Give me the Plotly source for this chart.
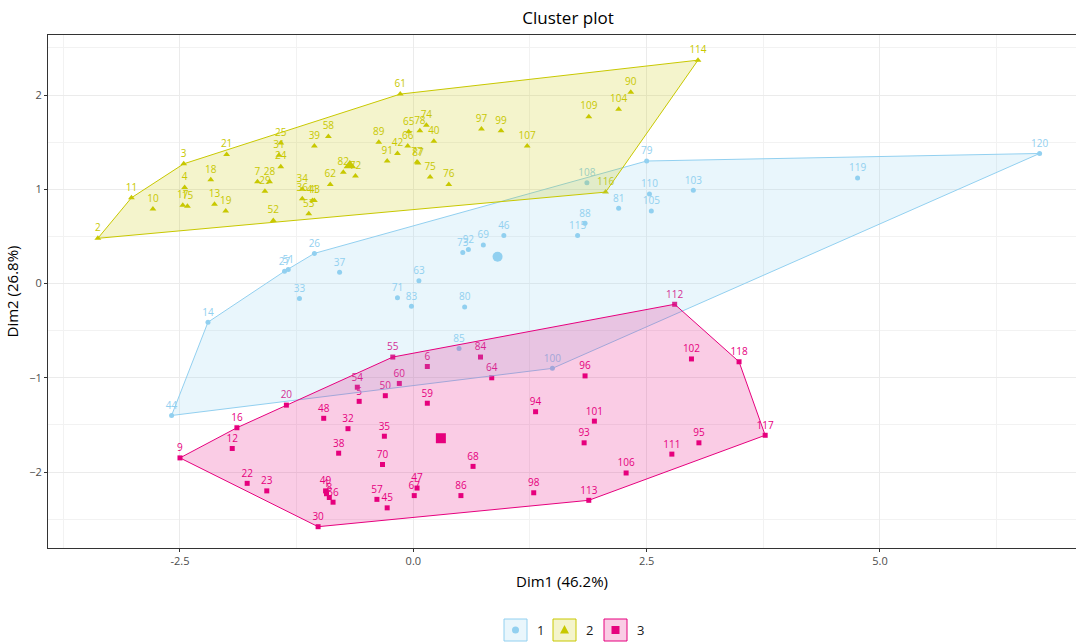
import plotly.graph_objects as go

# ---- cluster 1 -------------------------------------------------------
c1_ids = [120, 79, 119, 108, 110, 103, 81, 105, 88, 115, 46, 73, 92, 69,
          63, 71, 83, 80, 85, 100, 26, 27, 51, 37, 33, 14, 44]
c1_x = [6.71, 2.50, 4.76, 1.86, 2.53, 3.00, 2.20, 2.55, 1.84, 1.76, 0.97, 0.53, 0.59, 0.75,
        0.06, -0.17, -0.02, 0.55, 0.49, 1.49, -1.06, -1.38, -1.34, -0.79, -1.22, -2.20, -2.59]
c1_y = [1.38, 1.30, 1.12, 1.07, 0.95, 0.99, 0.80, 0.77, 0.64, 0.51, 0.51, 0.33, 0.36, 0.41,
        0.03, -0.15, -0.24, -0.25, -0.69, -0.90, 0.32, 0.13, 0.15, 0.12, -0.16, -0.41, -1.40]

# ---- cluster 2 -------------------------------------------------------
c2_ids = [2, 11, 3, 21, 10, 4, 17, 15, 18, 13, 19, 7, 28, 29, 52, 25, 31, 24, 34, 36,
          43, 41, 53, 62, 39, 58, 82, 72, 61, 89, 91, 42, 65, 66, 78, 74, 40, 87, 77, 75,
          76, 97, 99, 107, 109, 104, 90, 114, 116]
c2_x = [-3.38, -3.02, -2.46, -2.00, -2.79, -2.45, -2.47, -2.42, -2.17, -2.13, -2.01, -1.67,
        -1.54, -1.59, -1.50, -1.42, -1.44, -1.42, -1.19, -1.19, -1.06, -1.08, -1.12, -0.89,
        -1.06, -0.91, -0.75, -0.62, -0.14, -0.37, -0.28, -0.17, -0.05, -0.06, 0.07, 0.14,
        0.22, 0.05, 0.04, 0.18, 0.38, 0.73, 0.94, 1.22, 1.88, 2.20, 2.33, 3.05, 2.06]
c2_y = [0.48, 0.91, 1.27, 1.37, 0.79, 1.02, 0.83, 0.82, 1.10, 0.84, 0.77, 1.08, 1.08, 0.98,
        0.67, 1.49, 1.36, 1.24, 1.00, 0.90, 0.88, 0.88, 0.74, 1.05, 1.46, 1.56, 1.18, 1.14,
        2.01, 1.50, 1.30, 1.38, 1.61, 1.46, 1.62, 1.68, 1.51, 1.28, 1.29, 1.13, 1.05, 1.64,
        1.62, 1.46, 1.77, 1.85, 2.03, 2.37, 0.97]

# ---- cluster 3 -------------------------------------------------------
c3_ids = [112, 102, 118, 117, 96, 101, 93, 95, 111, 106, 113, 94, 64, 84, 6, 59, 68, 86,
          98, 47, 67, 55, 60, 54, 5, 50, 20, 48, 32, 35, 16, 12, 9, 38, 70, 22, 23, 49,
          1, 56, 8, 57, 45, 30]
c3_x = [2.80, 2.98, 3.49, 3.77, 1.84, 1.94, 1.83, 3.06, 2.77, 2.28, 1.88, 1.31, 0.84, 0.72,
        0.15, 0.15, 0.64, 0.51, 1.29, 0.04, 0.01, -0.22, -0.15, -0.60, -0.58, -0.30, -1.36,
        -0.96, -0.70, -0.31, -1.89, -1.94, -2.50, -0.80, -0.33, -1.78, -1.57, -0.94, -0.93,
        -0.86, -0.90, -0.39, -0.28, -1.02]
c3_y = [-0.22, -0.80, -0.83, -1.61, -0.98, -1.46, -1.69, -1.69, -1.81, -2.01, -2.30, -1.36,
        -1.00, -0.78, -0.88, -1.27, -1.94, -2.25, -2.22, -2.17, -2.25, -0.78, -1.06, -1.10,
        -1.25, -1.19, -1.29, -1.43, -1.54, -1.62, -1.53, -1.75, -1.85, -1.80, -1.92, -2.12,
        -2.20, -2.20, -2.23, -2.32, -2.27, -2.29, -2.38, -2.58]

clusters = [
    ("1", c1_ids, c1_x, c1_y, "#92D0F0", "rgba(146,208,240,0.2)", "circle", 5),
    ("2", c2_ids, c2_x, c2_y, "#C8C800", "rgba(200,200,0,0.2)", "triangle-up", 6),
    ("3", c3_ids, c3_x, c3_y, "#E6007E", "rgba(230,0,126,0.2)", "square", 5),
]

X_TICKS = [-2.5, 0.0, 2.5, 5.0]
X_TICK_TEXT = ["-2.5", "0.0", "2.5", "5.0"]
Y_TICKS = [-2, -1, 0, 1, 2]

W, H = 1076, 642
ML, MR, MT, MB = 48, 0, 35, 94
FONT = "Open Sans"


def convex_hull(xs, ys):
    pts = sorted(set(zip(xs, ys)))

    def cross(o, a, b):
        return (a[0] - o[0]) * (b[1] - o[1]) - (a[1] - o[1]) * (b[0] - o[0])

    lower, upper = [], []
    for p in pts:
        while len(lower) >= 2 and cross(lower[-2], lower[-1], p) <= 0:
            lower.pop()
        lower.append(p)
    for p in reversed(pts):
        while len(upper) >= 2 and cross(upper[-2], upper[-1], p) <= 0:
            upper.pop()
        upper.append(p)
    ring = lower[:-1] + upper[:-1]
    ring.append(ring[0])
    return [p[0] for p in ring], [p[1] for p in ring]


fig = go.Figure()

# points, labels and centres
for name, ids, xs, ys, col, fill, sym, size in clusters:
    fig.add_trace(go.Scatter(
        x=xs, y=ys, mode="markers+text", text=[str(i) for i in ids],
        textposition="top center",
        textfont=dict(family=FONT, size=10, color=col),
        marker=dict(symbol=sym, size=size, color=col, line=dict(width=0)),
        showlegend=False, hoverinfo="text",
    ))
    cx = sum(xs) / len(xs)
    cy = sum(ys) / len(ys)
    fig.add_trace(go.Scatter(
        x=[cx], y=[cy], mode="markers",
        marker=dict(symbol=sym, size=size + 5, color=col, line=dict(width=0)),
        showlegend=False, hoverinfo="skip",
    ))

# convex hull per cluster, drawn on top of the points
for name, ids, xs, ys, col, fill, sym, size in clusters:
    hx, hy = convex_hull(xs, ys)
    fig.add_trace(go.Scatter(
        x=hx, y=hy, mode="lines", fill="toself", fillcolor=fill,
        line=dict(color=col, width=1), showlegend=False, hoverinfo="skip",
    ))


# legend keys, placed in pixel terms below the panel
PW = W - ML - MR
PH = H - MT - MB


def px_x(px):
    return (px - ML) / PW


def px_y(py):
    return (H - MB - py) / PH


shapes = []
annotations = []
key_left = [504, 553, 604]
for (name, ids, xs, ys, col, fill, sym, size), bx in zip(clusters, key_left):
    shapes.append(dict(type="rect", xref="paper", yref="paper",
                       x0=px_x(bx), x1=px_x(bx + 23), y0=px_y(641), y1=px_y(619),
                       line=dict(color=col, width=1), fillcolor=fill))
    cxp, cyp = bx + 11.5, 630
    if sym == "circle":
        shapes.append(dict(type="circle", xref="paper", yref="paper",
                           x0=px_x(cxp - 3.5), x1=px_x(cxp + 3.5),
                           y0=px_y(cyp + 3.5), y1=px_y(cyp - 3.5),
                           line=dict(width=0), fillcolor=col))
    elif sym == "triangle-up":
        path = "M {} {} L {} {} L {} {} Z".format(
            px_x(cxp), px_y(cyp - 5), px_x(cxp - 4.5), px_y(cyp + 3.5),
            px_x(cxp + 4.5), px_y(cyp + 3.5))
        shapes.append(dict(type="path", xref="paper", yref="paper", path=path,
                           line=dict(width=0), fillcolor=col))
    else:
        shapes.append(dict(type="rect", xref="paper", yref="paper",
                           x0=px_x(cxp - 4), x1=px_x(cxp + 4),
                           y0=px_y(cyp + 4), y1=px_y(cyp - 4),
                           line=dict(width=0), fillcolor=col))
    annotations.append(dict(xref="paper", yref="paper", x=px_x(bx + 31), y=px_y(630),
                            text=name, showarrow=False, xanchor="left", yanchor="middle",
                            font=dict(family=FONT, size=13, color="#1A1A1A")))

fig.update_layout(
    width=W, height=H,
    margin=dict(l=ML, r=MR, t=MT, b=MB),
    paper_bgcolor="white", plot_bgcolor="white",
    title=dict(text="Cluster plot", x=px_x(568), xref="paper", xanchor="center",
               y=1 - 18 / H, yanchor="middle",
               font=dict(family=FONT, size=17, color="#000000")),
    font=dict(family=FONT),
    shapes=shapes, annotations=annotations,
    showlegend=False,
)

fig.update_xaxes(
    range=[-3.914, 7.100], tickvals=X_TICKS, ticktext=X_TICK_TEXT,
    showgrid=True, gridcolor="#EBEBEB", gridwidth=1,
    minor=dict(dtick=1.25, tick0=0, showgrid=True, gridcolor="#F2F2F2", gridwidth=1),
    zeroline=False, showline=True, linecolor="#333333", linewidth=1, mirror=True,
    ticks="outside", ticklen=3, tickcolor="#333333",
    tickfont=dict(family=FONT, size=11, color="#4D4D4D"),
    title=dict(text="Dim1 (46.2%)", standoff=9,
               font=dict(family=FONT, size=15, color="#000000")),
)
fig.update_yaxes(
    range=[-2.806, 2.637], tickvals=Y_TICKS,
    showgrid=True, gridcolor="#EBEBEB", gridwidth=1,
    minor=dict(dtick=0.5, tick0=0, showgrid=True, gridcolor="#F2F2F2", gridwidth=1),
    zeroline=False, showline=True, linecolor="#333333", linewidth=1, mirror=False,
    ticks="outside", ticklen=3, tickcolor="#333333",
    tickfont=dict(family=FONT, size=11, color="#4D4D4D"),
    title=dict(text="Dim2 (26.8%)", standoff=6,
               font=dict(family=FONT, size=15, color="#000000")),
)

fig.write_html("out.html")
